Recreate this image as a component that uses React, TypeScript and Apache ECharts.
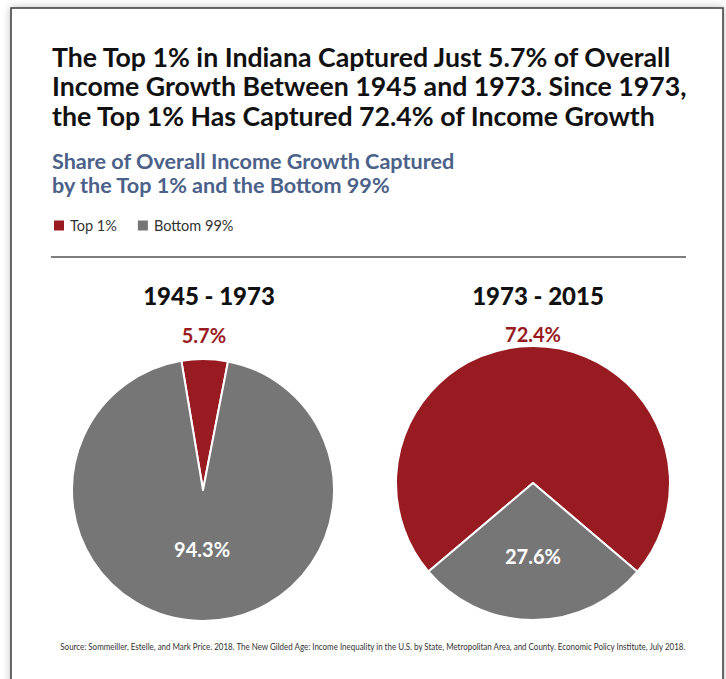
import React, { useEffect, useRef } from "react";
import * as echarts from "echarts";

const categories = ["Top 1%", "Bottom 99%"];
const periods = ["1945 - 1973", "1973 - 2015"];
const share1945 = [5.7, 94.3];
const share1973 = [72.4, 27.6];

const RED = "#971b20";
const GRAY = "#767676";

export default function App() {
  const ref = useRef<HTMLDivElement>(null);
  useEffect(() => {
    document.body.style.margin = "0";
    const chart = echarts.init(ref.current!, null, { renderer: "svg" });
    const mkData = (vals: number[], redOffset: number, grayOffset: number) =>
      vals.map((v, i) => ({
        name: categories[i],
        value: v,
        itemStyle: { color: i === 0 ? RED : GRAY },
        label:
          i === 0
            ? { color: RED, offset: [0, redOffset] }
            : { color: "#ffffff", offset: [0, grayOffset] },
      }));
    const pieLabel = {
      show: true,
      position: "inside",
      formatter: "{c}%",
      fontFamily: "Lato",
      fontWeight: "bold",
      fontSize: 20,
    };
    chart.setOption({
      animation: false,
      backgroundColor: "#ffffff",
      graphic: [
        {
          type: "rect",
          shape: { x: 11, y: 8, width: 712, height: 690 },
          style: {
            fill: "#ffffff",
            stroke: "#3a3a3a",
            lineWidth: 1.5,
            shadowBlur: 8,
            shadowColor: "rgba(0,0,0,0.25)",
          },
          z: -10,
        },
        {
          type: "line",
          shape: { x1: 51, y1: 257, x2: 686, y2: 257 },
          style: { stroke: "#555555", lineWidth: 1.5 },
        },
        {
          type: "text",
          x: 52,
          y: 646,
          scaleX: 0.84,
          originX: 52,
          originY: 646,
          style: {
            text:
              "Source: Sommeiller, Estelle, and Mark Price. 2018. The New Gilded Age: Income Inequality in the U.S. by State, Metropolitan Area, and County. Economic Policy Institute, July 2018.",
            fontFamily: "Lato",
            fontSize: 9.5,
            fill: "#333333",
            verticalAlign: "middle",
            align: "left",
          },
        },
      ],
      title: [
        {
          text:
            "The Top 1% in Indiana Captured Just 5.7% of Overall\nIncome Growth Between 1945 and 1973. Since 1973,\nthe Top 1% Has Captured 72.4% of Income Growth",
          left: 47,
          top: 37,
          textStyle: {
            fontFamily: "Lato",
            fontWeight: "bold",
            fontSize: 26.7,
            lineHeight: 29.5,
            color: "#111111",
          },
        },
        {
          text: "Share of Overall Income Growth Captured\nby the Top 1% and the Bottom 99%",
          left: 47,
          top: 144,
          textStyle: {
            fontFamily: "Lato",
            fontWeight: "bold",
            fontSize: 21.6,
            lineHeight: 24,
            color: "#4b6189",
          },
        },
        {
          text: periods[0],
          left: 204,
          top: 278,
          textAlign: "center",
          textStyle: {
            fontFamily: "Lato",
            fontWeight: 900,
            fontSize: 24,
            color: "#111111",
          },
        },
        {
          text: periods[1],
          left: 533,
          top: 278,
          textAlign: "center",
          textStyle: {
            fontFamily: "Lato",
            fontWeight: 900,
            fontSize: 24,
            color: "#111111",
          },
        },
      ],
      legend: {
        data: categories,
        left: 47,
        top: 213,
        icon: "rect",
        itemWidth: 12,
        itemHeight: 12,
        itemGap: 19,
        textStyle: { fontFamily: "Lato", fontSize: 14.5, color: "#333333" },
      },
      series: [
        {
          type: "pie",
          name: periods[0],
          center: [203, 490],
          radius: 131,
          startAngle: 99.5,
          clockwise: true,
          label: pieLabel,
          labelLine: { show: false },
          itemStyle: { borderColor: "#ffffff", borderWidth: 2 },
          emphasis: { disabled: true },
          data: mkData(share1945, -87, -9),
        },
        {
          type: "pie",
          name: periods[1],
          center: [533, 483],
          radius: 137,
          startAngle: 220.3,
          clockwise: true,
          label: pieLabel,
          labelLine: { show: false },
          itemStyle: { borderColor: "#ffffff", borderWidth: 2 },
          emphasis: { disabled: true },
          data: mkData(share1973, -78, 1),
        },
      ],
    });
    return () => chart.dispose();
  }, []);
  return (
    <div
      ref={ref}
      style={{ position: "absolute", left: 0, top: 0, width: 726, height: 679 }}
    />
  );
}
